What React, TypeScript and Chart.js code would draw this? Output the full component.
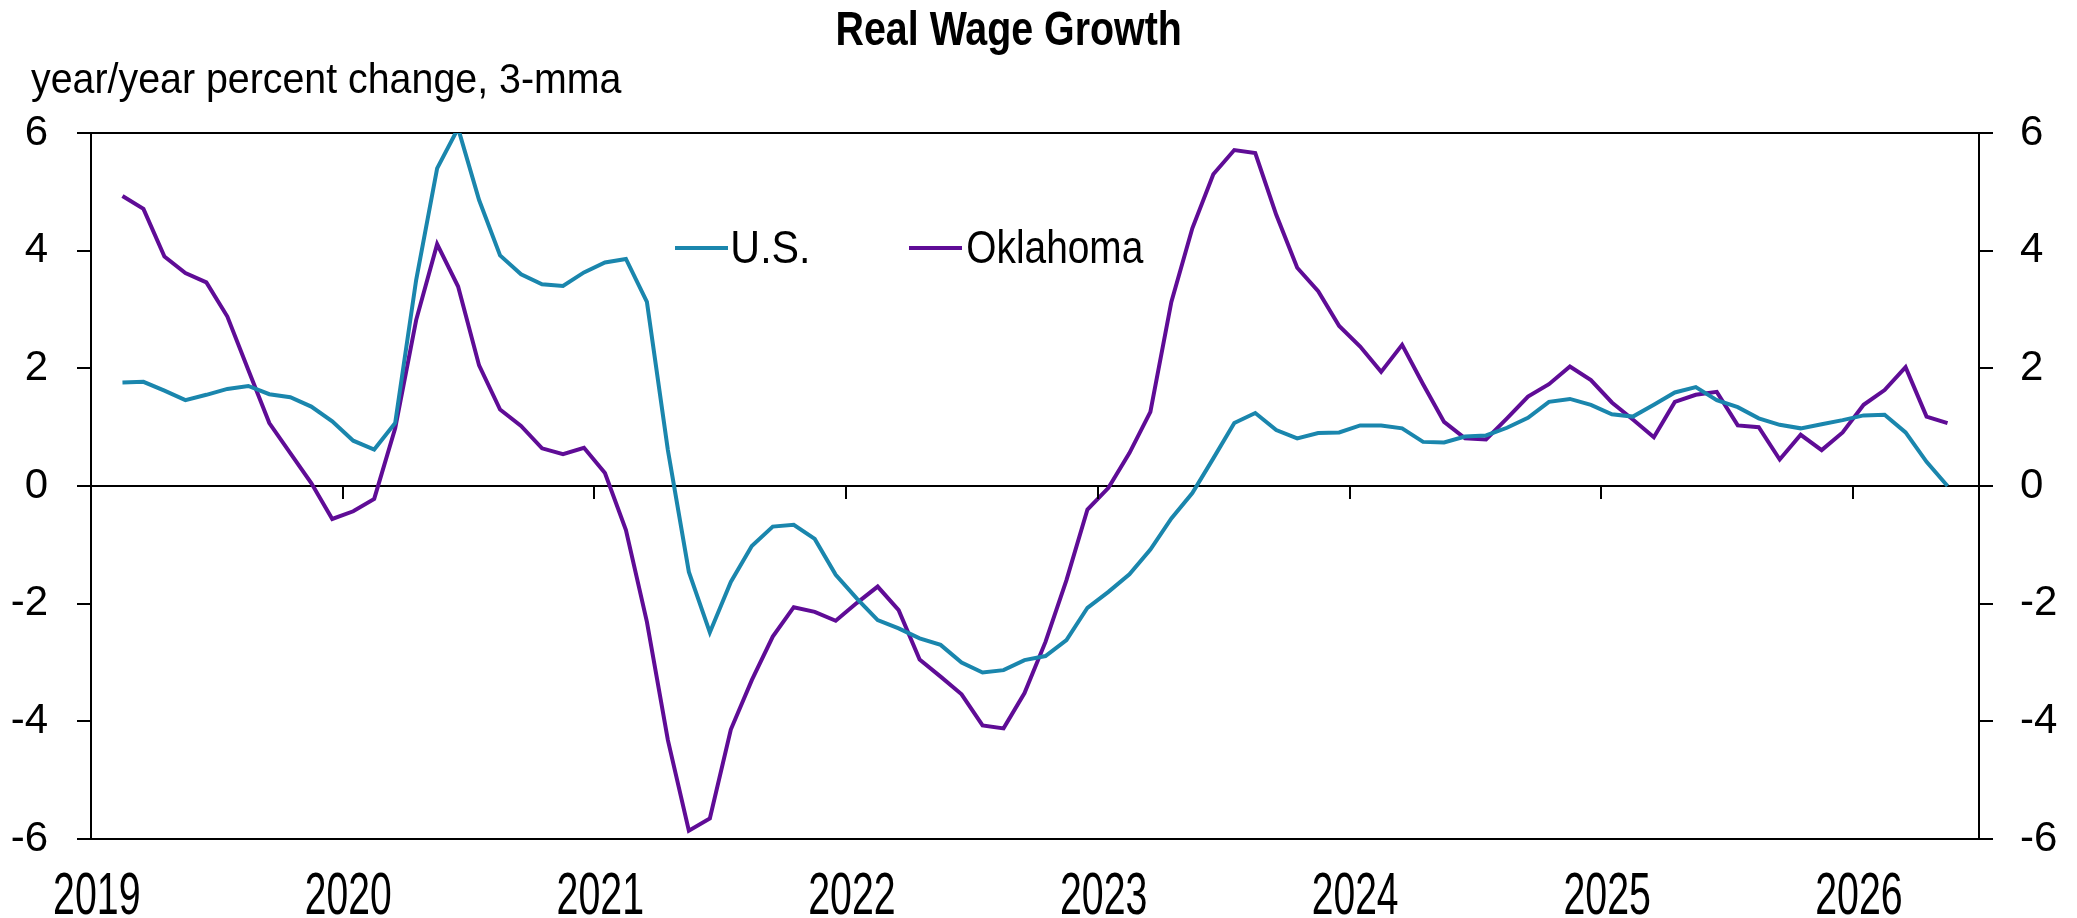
import React, { useEffect, useRef } from 'react';
import { Chart, registerables } from 'chart.js';

Chart.register(...registerables);

// ---- Data (monthly, 3-month moving average of y/y % change) ----
// months counted from Jan 2019 = 0; the first observation is Feb 2019
const firstMonthIndex = 1;
const yearLabels = ['2019', '2020', '2021', '2022', '2023', '2024', '2025', '2026'];
const yearTickMonths = [0, 12, 24, 36, 48, 60, 72, 84];
const yTickValues = [-6, -4, -2, 0, 2, 4, 6];

const usValues = [
  1.76, 1.77, 1.62, 1.46, 1.55, 1.65, 1.70, 1.56, 1.51, 1.35, 1.10,
  0.77, 0.62, 1.07, 3.50, 5.40, 6.08, 4.86, 3.92, 3.60, 3.43, 3.40, 3.63,
  3.80, 3.86, 3.13, 0.61, -1.46, -2.49, -1.63, -1.02, -0.69, -0.66, -0.90, -1.51,
  -1.91, -2.28, -2.42, -2.59, -2.70, -3.00, -3.17, -3.13, -2.96, -2.89, -2.62, -2.07,
  -1.80, -1.50, -1.08, -0.55, -0.12, 0.47, 1.07, 1.24, 0.95, 0.81, 0.90, 0.91,
  1.03, 1.03, 0.98, 0.75, 0.74, 0.84, 0.86, 0.99, 1.16, 1.43, 1.48, 1.38,
  1.22, 1.18, 1.38, 1.59, 1.68, 1.46, 1.34, 1.15, 1.04, 0.98, 1.05, 1.12,
  1.20, 1.21, 0.91, 0.41, 0.00,
];

const okValues = [
  4.93, 4.71, 3.90, 3.62, 3.46, 2.88, 1.97, 1.07, 0.56, 0.05, -0.56,
  -0.43, -0.22, 0.98, 2.82, 4.11, 3.39, 2.05, 1.30, 1.02, 0.64, 0.54, 0.65,
  0.22, -0.75, -2.31, -4.32, -5.86, -5.65, -4.14, -3.30, -2.56, -2.06, -2.14, -2.29,
  -1.99, -1.71, -2.11, -2.95, -3.24, -3.54, -4.07, -4.12, -3.52, -2.65, -1.60, -0.40,
  -0.03, 0.56, 1.26, 3.13, 4.38, 5.30, 5.71, 5.66, 4.61, 3.71, 3.31, 2.72,
  2.37, 1.94, 2.40, 1.73, 1.09, 0.81, 0.79, 1.15, 1.52, 1.73, 2.03, 1.80,
  1.42, 1.13, 0.83, 1.43, 1.55, 1.60, 1.03, 1.00, 0.45, 0.87, 0.61, 0.91,
  1.38, 1.63, 2.02, 1.18, 1.07,
];

const seriesLabels = ['U.S.', 'Oklahoma'];
const seriesColors = ['#1A86AD', '#5F0C96'];

const titleText = 'Real Wage Growth';
const subtitleText = 'year/year percent change, 3-mma';

const NARROW = "'Liberation Sans Narrow', 'Arial Narrow', 'Liberation Sans', Arial, sans-serif";
const REGULAR = "'Liberation Sans', Arial, sans-serif";

function toPoints(values: number[]) {
  // each monthly observation is plotted at the middle of its month
  return values.map((v, i) => ({ x: firstMonthIndex + i + 0.5, y: v }));
}

function drawFittedText(
  ctx: CanvasRenderingContext2D,
  text: string,
  left: number,
  baseline: number,
  font: string,
  targetWidth: number,
  center = false
) {
  ctx.save();
  ctx.font = font;
  ctx.textAlign = 'left';
  ctx.textBaseline = 'alphabetic';
  const m = ctx.measureText(text);
  const inkLeft = m.actualBoundingBoxLeft || 0;
  const inkW = (m.actualBoundingBoxRight || m.width) + inkLeft;
  const sx = targetWidth / inkW;
  const x0 = center ? left - targetWidth / 2 : left;
  ctx.translate(x0 + inkLeft * sx, baseline);
  ctx.scale(sx, 1);
  ctx.fillStyle = '#000';
  ctx.fillText(text, 0, 0);
  ctx.restore();
}

const decorPlugin = {
  id: 'decor',
  afterDatasetsDraw(chart: any) {
    const ctx: CanvasRenderingContext2D = chart.ctx;
    const xs = chart.scales.x;
    const ys = chart.scales.y;
    const y0 = ys.getPixelForValue(0);
    // year tick marks hanging from the zero line
    ctx.save();
    ctx.strokeStyle = '#000';
    ctx.lineWidth = 2;
    yearTickMonths.slice(1).forEach((m) => {
      const x = Math.round(xs.getPixelForValue(m));
      ctx.beginPath();
      ctx.moveTo(x, y0);
      ctx.lineTo(x, y0 + 13);
      ctx.stroke();
    });
    ctx.restore();
  },
  afterDraw(chart: any) {
    const ctx: CanvasRenderingContext2D = chart.ctx;
    const xs = chart.scales.x;
    // year labels (condensed) under the plot
    yearTickMonths.forEach((m, i) => {
      const x = xs.getPixelForValue(m) + 6;
      drawFittedText(ctx, yearLabels[i], x, 914, `60px ${REGULAR}`, 84, true);
    });
    // title and subtitle
    drawFittedText(ctx, titleText, 838, 45, `bold 48px ${NARROW}`, 342);
    drawFittedText(ctx, subtitleText, 31, 93, `42px ${REGULAR}`, 591);
    // legend
    const items = [
      { lineX: 675, textX: 733, textW: 74 },
      { lineX: 909, textX: 968, textW: 176 },
    ];
    chart.data.datasets.forEach((ds: any, i: number) => {
      const it = items[i];
      ctx.save();
      ctx.strokeStyle = ds.borderColor;
      ctx.lineWidth = 4;
      ctx.beginPath();
      ctx.moveTo(it.lineX, 248);
      ctx.lineTo(it.lineX + 53, 248);
      ctx.stroke();
      ctx.restore();
      drawFittedText(ctx, ds.label, it.textX, 263, `47px ${NARROW}`, it.textW);
    });
  },
};

export default function App() {
  const canvasRef = useRef<HTMLCanvasElement | null>(null);

  useEffect(() => {
    const canvas = canvasRef.current;
    if (!canvas) return;
    const zeroEdge = (v: any) => v === 6 || v === -6 || v === 0;
    const chart = new Chart(canvas, {
      type: 'line',
      data: {
        datasets: [
          {
            label: seriesLabels[0],
            data: toPoints(usValues),
            borderColor: seriesColors[0],
            backgroundColor: seriesColors[0],
            borderWidth: 4,
            pointRadius: 0,
            tension: 0,
            fill: false,
          },
          {
            label: seriesLabels[1],
            data: toPoints(okValues),
            borderColor: seriesColors[1],
            backgroundColor: seriesColors[1],
            borderWidth: 4,
            pointRadius: 0,
            tension: 0,
            fill: false,
          },
        ],
      },
      options: {
        animation: false,
        responsive: false,
        maintainAspectRatio: false,
        layout: { padding: { top: 133, left: 0, right: 0, bottom: 0 } },
        plugins: {
          legend: { display: false },
          title: { display: false },
          tooltip: { enabled: false },
        },
        scales: {
          x: {
            type: 'linear',
            position: 'bottom',
            min: 0,
            max: 90,
            afterBuildTicks: (s: any) => {
              s.ticks = yearTickMonths.map((v) => ({ value: v }));
            },
            afterFit: (s: any) => {
              s.height = 79;
            },
            grid: { display: false, drawTicks: false },
            border: { display: false },
            ticks: { display: false },
          },
          y: {
            type: 'linear',
            position: 'left',
            min: -6,
            max: 6,
            afterBuildTicks: (s: any) => {
              s.ticks = yTickValues.map((v) => ({ value: v }));
            },
            afterFit: (s: any) => {
              s.width = 91;
            },
            grid: {
              color: (c: any) => (c.tick && zeroEdge(c.tick.value) ? '#000' : 'rgba(0,0,0,0)'),
              lineWidth: 2,
              tickColor: '#000',
              tickLength: 14,
              tickWidth: 2,
            },
            border: { display: true, color: '#000', width: 2 },
            ticks: {
              padding: 29,
              color: '#000',
              font: { family: REGULAR, size: 42 },
              callback: (v: any) => String(v),
            },
          },
          y2: {
            type: 'linear',
            position: 'right',
            min: -6,
            max: 6,
            afterBuildTicks: (s: any) => {
              s.ticks = yTickValues.map((v) => ({ value: v }));
            },
            afterFit: (s: any) => {
              s.width = 98;
            },
            grid: {
              drawOnChartArea: false,
              color: '#000',
              lineWidth: 2,
              tickColor: '#000',
              tickLength: 14,
              tickWidth: 2,
            },
            border: { display: true, color: '#000', width: 2 },
            ticks: {
              padding: 27,
              color: '#000',
              font: { family: REGULAR, size: 42 },
              callback: (v: any) => String(v),
            },
          },
        },
      } as any,
      plugins: [decorPlugin],
    });
    return () => chart.destroy();
  }, []);

  return (
    <div
      style={{
        position: 'fixed',
        left: 0,
        top: 0,
        width: 2077,
        height: 918,
        background: '#ffffff',
      }}
    >
      <canvas
        ref={canvasRef}
        width={2077}
        height={918}
        style={{ display: 'block', width: 2077, height: 918 }}
      />
    </div>
  );
}
